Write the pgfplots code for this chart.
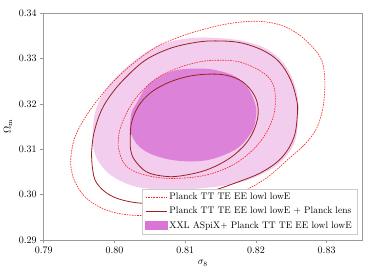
\documentclass[border=0pt]{standalone}
\usepackage{pgfplots}
\pgfplotsset{compat=1.18}
\definecolor{lightorchid}{HTML}{F2CDEE}
\definecolor{darkorchid}{HTML}{DC82D8}
\definecolor{legorchid}{HTML}{DA74D6}
\definecolor{maroonline}{HTML}{9B2020}
\definecolor{framegray}{HTML}{9A9A9A}
\definecolor{planckred}{HTML}{FF2020}
\pgfplotsset{
  planckleg/.style={legend image code/.code={\draw[color=planckred, line width=0.7pt, dash pattern=on 1.6pt off 1pt] (0cm,0cm) -- (0.75cm,0cm);}},
  lensleg/.style={legend image code/.code={\draw[color=maroonline, line width=0.9pt] (0cm,0cm) -- (0.75cm,0cm);}},
  xxlleg/.style={legend image code/.code={\fill[color=legorchid] (0cm,-0.13cm) rectangle (0.75cm,0.15cm);}},
}
\begin{document}
\begin{tikzpicture}
\begin{axis}[
  at={(0,0)}, anchor=south west,
  scale only axis, width=318.3pt, height=226.7pt,
  xmin=0.79, xmax=0.835, ymin=0.29, ymax=0.34,
  xtick={0.79,0.80,0.81,0.82,0.83},
  ytick={0.29,0.30,0.31,0.32,0.33,0.34},
  xticklabel style={/pgf/number format/.cd, fixed, fixed zerofill, precision=2},
  yticklabel style={/pgf/number format/.cd, fixed, fixed zerofill, precision=2},
  scaled ticks=false,
  tick align=outside, major tick length=3.5pt,
  every tick/.style={framegray, line width=0.8pt},
  axis line style={framegray, line width=0.9pt},
  tick pos=left,
  xlabel={$\sigma_8$}, ylabel={$\Omega_{\rm m}$},
  legend style={at={(1,0)}, anchor=south east, xshift=-5pt, yshift=6pt,
    draw=black!20, fill=white, font=\fontsize{9.5}{11.5}\selectfont,
    nodes={anchor=west}, row sep=2pt},
]
\addlegendimage{planckred, draw=planckred, planckleg}
\addlegendentry{Planck TT TE EE lowl lowE}
\addlegendimage{maroonline, draw=maroonline, lensleg}
\addlegendentry{Planck TT TE EE lowl lowE + Planck lens}
\addlegendimage{legorchid, fill=legorchid, draw=legorchid, xxlleg}
\addlegendentry{XXL ASpiX+ Planck TT TE EE lowl lowE}

% XXL 2 sigma
\addplot[forget plot, fill=lightorchid, draw=none, smooth, tension=0.6] table {
0.79690 0.31276
0.79723 0.31790
0.79840 0.32231
0.80028 0.32598
0.80263 0.32928
0.80498 0.33185
0.80779 0.33369
0.81108 0.33457
0.81437 0.33457
0.81812 0.33391
0.82141 0.33222
0.82376 0.32928
0.82526 0.32524
0.82596 0.32084
0.82596 0.31643
0.82540 0.31129
0.82329 0.30689
0.82000 0.30395
0.81671 0.30233
0.81202 0.30138
0.80732 0.30116
0.80310 0.30175
0.79981 0.30395
0.79793 0.30689
0.79709 0.30982
0.79690 0.31276
};
% XXL 1 sigma
\addplot[forget plot, fill=darkorchid, draw=none, smooth, tension=0.6] table {
0.80216 0.31423
0.80239 0.31790
0.80310 0.32010
0.80451 0.32377
0.80638 0.32598
0.80873 0.32745
0.81202 0.32781
0.81437 0.32745
0.81718 0.32598
0.81906 0.32304
0.82000 0.31937
0.82000 0.31717
0.81953 0.31423
0.81765 0.31056
0.81484 0.30836
0.81202 0.30740
0.80826 0.30762
0.80498 0.30909
0.80310 0.31129
0.80216 0.31423
};
% Planck 2 sigma
\addplot[forget plot, planckred, line width=0.6pt, dash pattern=on 1.6pt off 1pt, smooth, tension=0.6] table {
0.79385 0.30836
0.79427 0.31203
0.79535 0.31570
0.79723 0.32010
0.79981 0.32488
0.80263 0.32891
0.80592 0.33258
0.80920 0.33479
0.81249 0.33641
0.81624 0.33773
0.82000 0.33824
0.82329 0.33751
0.82587 0.33553
0.82798 0.33259
0.82930 0.32965
0.82972 0.32598
0.82967 0.32157
0.82930 0.31790
0.82845 0.31423
0.82681 0.31093
0.82469 0.30799
0.82141 0.30358
0.81765 0.30028
0.81390 0.29771
0.81014 0.29624
0.80592 0.29551
0.80216 0.29551
0.79887 0.29661
0.79606 0.29918
0.79441 0.30285
0.79385 0.30615
0.79385 0.30836
};
% Planck 1 sigma
\addplot[forget plot, planckred, line width=0.6pt, dash pattern=on 1.6pt off 1pt, smooth, tension=0.6] table {
0.80052 0.31056
0.80075 0.31423
0.80192 0.31863
0.80357 0.32231
0.80592 0.32561
0.80873 0.32781
0.81202 0.32928
0.81484 0.32965
0.81765 0.32928
0.82047 0.32745
0.82211 0.32524
0.82272 0.32231
0.82258 0.31790
0.82141 0.31350
0.81953 0.30982
0.81671 0.30652
0.81296 0.30432
0.80873 0.30358
0.80545 0.30395
0.80263 0.30527
0.80122 0.30725
0.80052 0.31056
};
% Planck + lens 2 sigma
\addplot[forget plot, maroonline, line width=0.8pt, smooth, tension=0.6] table {
0.79676 0.30909
0.79709 0.31350
0.79817 0.31864
0.79981 0.32268
0.80192 0.32635
0.80451 0.32980
0.80779 0.33222
0.81108 0.33347
0.81390 0.33391
0.81765 0.33355
0.82094 0.33185
0.82329 0.32928
0.82493 0.32524
0.82577 0.32084
0.82587 0.31790
0.82540 0.31276
0.82376 0.30836
0.82094 0.30505
0.81718 0.30263
0.81296 0.30043
0.80873 0.29881
0.80545 0.29808
0.80216 0.29844
0.79934 0.29991
0.79746 0.30263
0.79690 0.30579
0.79676 0.30909
};
% Planck + lens 1 sigma
\addplot[forget plot, maroonline, line width=0.8pt, smooth, tension=0.6] table {
0.80225 0.31203
0.80239 0.31570
0.80333 0.31937
0.80498 0.32231
0.80732 0.32451
0.81014 0.32598
0.81296 0.32656
0.81577 0.32635
0.81812 0.32488
0.81977 0.32194
0.82033 0.31863
0.81991 0.31496
0.81859 0.31129
0.81624 0.30799
0.81296 0.30542
0.80920 0.30410
0.80685 0.30410
0.80451 0.30505
0.80286 0.30762
0.80230 0.30982
0.80225 0.31203
};
\end{axis}
\path (-43.7pt,-40pt) rectangle (330.3pt,240pt);
\end{tikzpicture}
\end{document}
